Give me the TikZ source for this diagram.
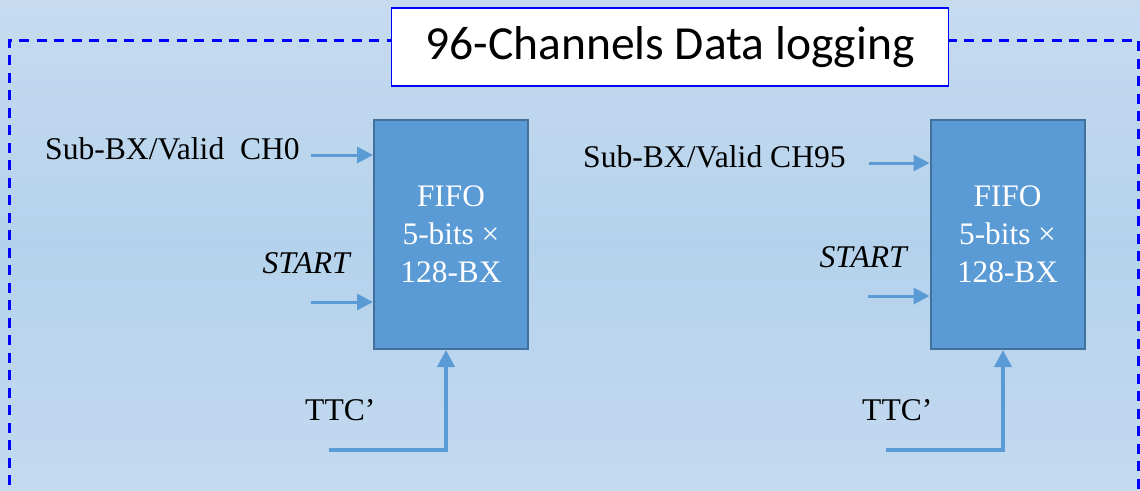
\documentclass[tikz,border=0pt]{standalone}
\usepackage{fontspec}
\setmainfont{Liberation Serif}
\newfontfamily\titlefont{Carlito}
\usetikzlibrary{arrows.meta}
\definecolor{bgtop}{HTML}{C6DBF0}
\definecolor{bgmid}{HTML}{B5D2EC}
\definecolor{bgbot}{HTML}{C3DAF0}
\definecolor{fifofill}{HTML}{5B9BD5}
\definecolor{fifoedge}{HTML}{41719C}
\definecolor{arrcol}{HTML}{5B9BD5}
\definecolor{pureblue}{HTML}{0000FF}
\tikzset{
  fifobox/.style={draw=fifoedge, line width=2pt, fill=fifofill, minimum width=154pt, minimum height=229pt, inner sep=0pt, text=white, align=center, font=\fontsize{31.3}{38}\selectfont},
  sig/.style={font=\fontsize{31.6}{36}\selectfont, inner sep=0pt},
  arr/.style={draw=arrcol, line width=3pt, -{Triangle[length=16pt,width=16pt]}},
  ttcarr/.style={draw=arrcol, line width=4pt, -{Triangle[length=17pt,width=17pt]}},
  titlebox/.style={draw=pureblue, line width=1.5pt, fill=white, minimum width=557pt, minimum height=78pt, inner sep=0pt, font=\titlefont\fontsize{47.5}{52}\selectfont}
}
\begin{document}
\begin{tikzpicture}[x=1pt,y=-1pt]
\useasboundingbox (0,0) rectangle (1140,490);
\shade[top color=bgtop, bottom color=bgbot, middle color=bgmid] (0,0) rectangle (1140,490);
% dashed frame
\draw[pureblue, line width=3pt, dash pattern=on 10pt off 7.5pt] (9,520) -- (9,40) -- (1138,40) -- (1138,520);
% title
\node[titlebox] (title) at (670,47) {96-Channels Data logging};
% FIFO blocks
\node[fifobox] (fifo1) at (451,234.5) {FIFO\\5-bits \texttimes\\128-BX};
\node[fifobox] (fifo2) at (1007.5,234.5) {FIFO\\5-bits \texttimes\\128-BX};
% channel 0
\node[sig, anchor=base west] (sub0) at (45,159) {Sub-BX/Valid\ \ CH0};
\node[sig, anchor=base east] (start0) at (350,273) {\itshape START};
\node[sig, anchor=base west] (ttc0) at (305,420) {TTC’};
\coordinate (a0) at (311,155);
\coordinate (b0) at (311,302);
\coordinate (t0) at (329,450);
\draw[arr] (a0) -- (a0 -| fifo1.west);
\draw[arr] (b0) -- (b0 -| fifo1.west);
\draw[ttcarr] (t0) -| (446,0 |- fifo1.south);
% channel 95
\node[sig, anchor=base west] (sub95) at (583,167) {Sub-BX/Valid CH95};
\node[sig, anchor=base east] (start95) at (907,267) {\itshape START};
\node[sig, anchor=base west] (ttc95) at (862,420) {TTC’};
\coordinate (a95) at (869,163);
\coordinate (b95) at (868,296);
\coordinate (t95) at (886,450);
\draw[arr] (a95) -- (a95 -| fifo2.west);
\draw[arr] (b95) -- (b95 -| fifo2.west);
\draw[ttcarr] (t95) -| (1003,0 |- fifo2.south);
\end{tikzpicture}
\end{document}
